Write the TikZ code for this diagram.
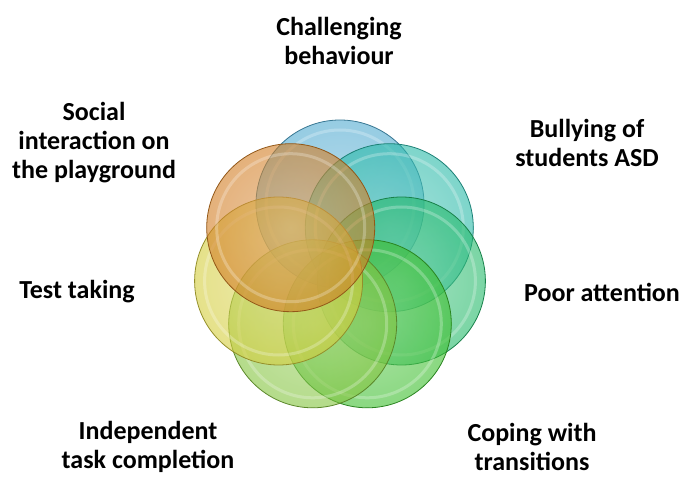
\documentclass[tikz,border=0pt]{standalone}
\usepackage{fontspec}
\setmainfont{Carlito}
\usepackage{tikz}
\usetikzlibrary{shapes}

\definecolor{petalblue}{RGB}{80,170,208}
\definecolor{petalteal}{RGB}{40,185,168}
\definecolor{petalsea}{RGB}{35,185,105}
\definecolor{petalgreen}{RGB}{60,190,45}
\definecolor{petallime}{RGB}{130,195,60}
\definecolor{petalyellow}{RGB}{212,205,60}
\definecolor{petalorange}{RGB}{210,125,35}

\begin{document}
\begin{tikzpicture}[x=1pt,y=-1pt,inner sep=0pt,
  petal/.style={circle,minimum size=168pt,draw=#1!70!black,line width=.8pt,
    inner color=#1!70!white,outer color=#1,fill opacity=.6,
    path picture={\draw[white,opacity=.25,line width=3pt]
      (path picture bounding box.center) circle (74pt);}},
  label/.style={align=center,font=\bfseries\fontsize{26}{29}\selectfont}]
\useasboundingbox (0,0) rectangle (685,478);
%Circle Coordinates
\node at (340.0,204.0) [petal=petalblue] (Circle1) {};
\node at (389.3,227.7) [petal=petalteal] (Circle2) {};
\node at (401.4,281.0) [petal=petalsea] (Circle3) {};
\node at (367.3,323.8) [petal=petalgreen] (Circle4) {};
\node at (312.7,323.8) [petal=petallime] (Circle5) {};
\node at (278.6,281.0) [petal=petalyellow] (Circle6) {};
\node at (290.7,227.7) [petal=petalorange] (Circle7) {};
%Circle Labels
\node at (339,41) [label] (Label1) {Challenging\\behaviour};
\node at (587,143) [label] (Label2) {Bullying of\\students ASD};
\node at (602,292) [label] (Label3) {Poor attention};
\node at (532,447) [label] (Label4) {Coping with\\transitions};
\node at (148,447) [label] (Label5) {Independent\\task completion};
\node at (77,292) [label] (Label6) {Test taking};
\node at (94,143) [label] (Label7) {Social\\interaction on\\the playground};
\end{tikzpicture}
\end{document}
